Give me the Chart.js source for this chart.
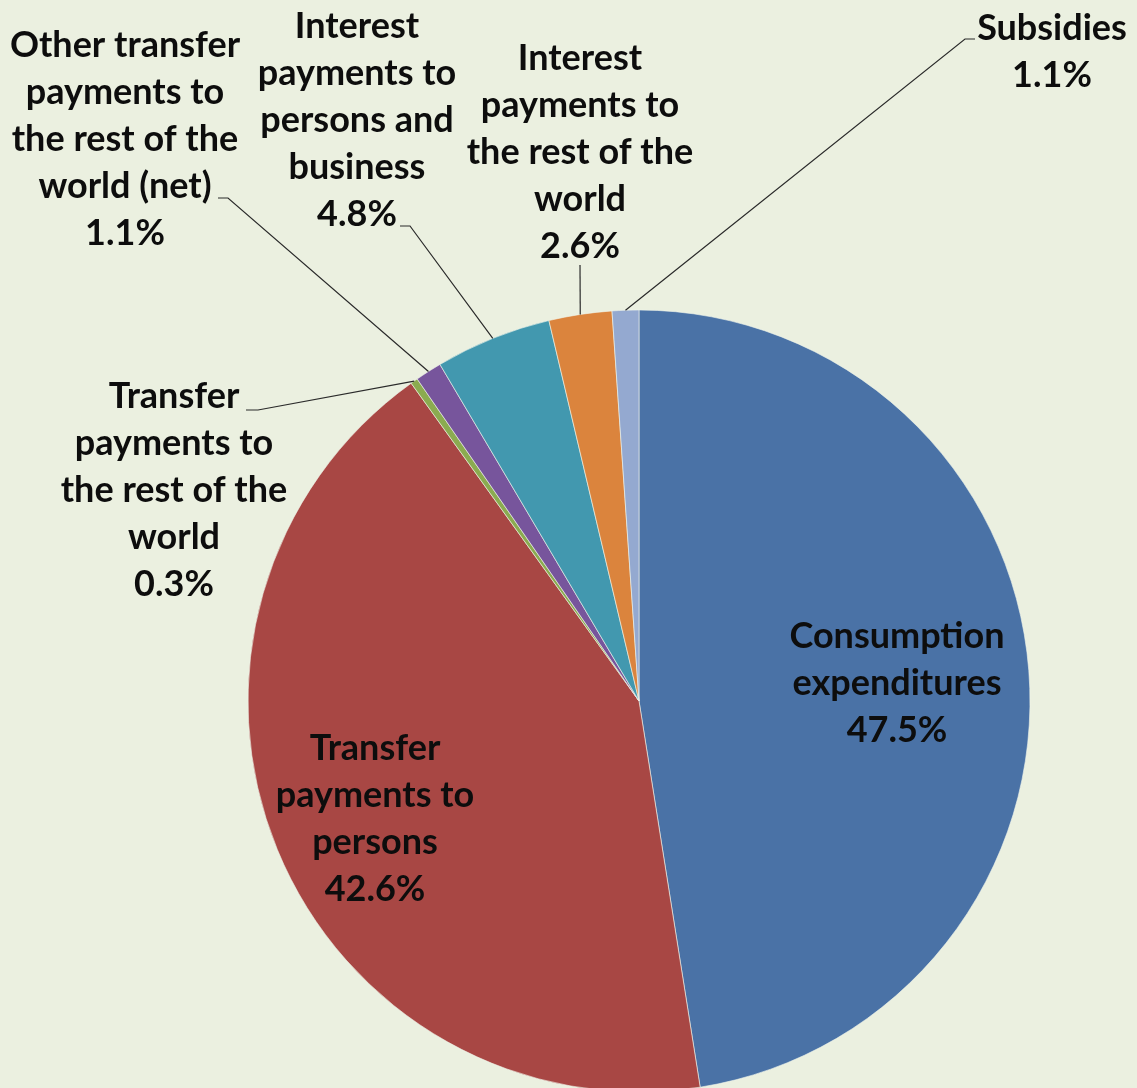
<!DOCTYPE html>
<html>
<head>
<meta charset="utf-8">
<script src="https://cdn.jsdelivr.net/npm/chart.js@4.4.1/dist/chart.umd.min.js"></script>
<style>
  html, body { margin: 0; padding: 0; background: #ebf0e0; }
  #wrap { width: 1137px; height: 1088px; }
</style>
</head>
<body>
<div id="wrap"><canvas id="chartPie" width="1137" height="1088"></canvas></div>
<script>
// Federal outlays by type, share of total (%)
const categories = [
  ["Consumption", "expenditures"],
  ["Transfer", "payments to", "persons"],
  ["Transfer", "payments to", "the rest of the", "world"],
  ["Other transfer", "payments to", "the rest of the", "world (net)"],
  ["Interest", "payments to", "persons and", "business"],
  ["Interest", "payments to", "the rest of the", "world"],
  ["Subsidies"],
];
const shares = [47.5, 42.6, 0.3, 1.1, 4.8, 2.6, 1.1];
const colors = ["#4a72a6", "#a84744", "#8bab50", "#77559c", "#4298af", "#db843d", "#94a9d0"];

// where each label block sits (center x, baseline of first line) and where its leader starts
const labelLayout = [
  { x: 897, y: 648, leader: null },
  { x: 375, y: 760, leader: null },
  { x: 174, y: 408, leader: [[246, 410], [258, 410]] },
  { x: 125, y: 57, leader: [[218, 198], [228, 198]] },
  { x: 357, y: 38, leader: [[400, 226], [410, 226]] },
  { x: 580, y: 70, leader: [[580, 265]] },
  { x: 1052, y: 40, leader: [[975, 39], [965, 39]] },
];
const lineGap = 47;

const labelPlugin = {
  id: "sliceLabels",
  afterDatasetsDraw(chart) {
    const ctx = chart.ctx;
    const arcs = chart.getDatasetMeta(0).data;
    ctx.save();
    ctx.font = "bold 36px Lato";
    ctx.fillStyle = "#0d0d0d";
    ctx.textAlign = "center";
    ctx.textBaseline = "alphabetic";
    arcs.forEach((arc, i) => {
      const pos = labelLayout[i];
      const lines = categories[i].concat([shares[i].toFixed(1) + "%"]);
      lines.forEach((txt, k) => ctx.fillText(txt, pos.x, pos.y + k * lineGap));
      if (pos.leader) {
        // leader goes to the middle of the slice's outer edge
        const p = arc.getProps(["x", "y", "startAngle", "endAngle", "outerRadius"], true);
        const mid = (p.startAngle + p.endAngle) / 2;
        const ex = p.x + Math.cos(mid) * p.outerRadius;
        const ey = p.y + Math.sin(mid) * p.outerRadius;
        ctx.beginPath();
        ctx.strokeStyle = "#2a2a2a";
        ctx.lineWidth = 1.2;
        ctx.moveTo(pos.leader[0][0], pos.leader[0][1]);
        pos.leader.slice(1).forEach((pt) => ctx.lineTo(pt[0], pt[1]));
        ctx.lineTo(ex, ey);
        ctx.stroke();
      }
    });
    ctx.restore();
  },
};

const canvasPie = document.getElementById("chartPie").getContext("2d");
new Chart(canvasPie, {
  type: "pie",
  data: {
    labels: categories.map((c) => c.join(" ")),
    datasets: [
      {
        data: shares,
        backgroundColor: colors,
        borderColor: "rgba(240,245,235,0.6)",
        borderWidth: 1,
        radius: 391,
      },
    ],
  },
  options: {
    responsive: false,
    animation: false,
    layout: { padding: { left: 141, right: 0, top: 314, bottom: 0 } },
    plugins: {
      legend: { display: false },
      tooltip: { enabled: false },
    },
  },
  plugins: [labelPlugin],
});
</script>
</body>
</html>
